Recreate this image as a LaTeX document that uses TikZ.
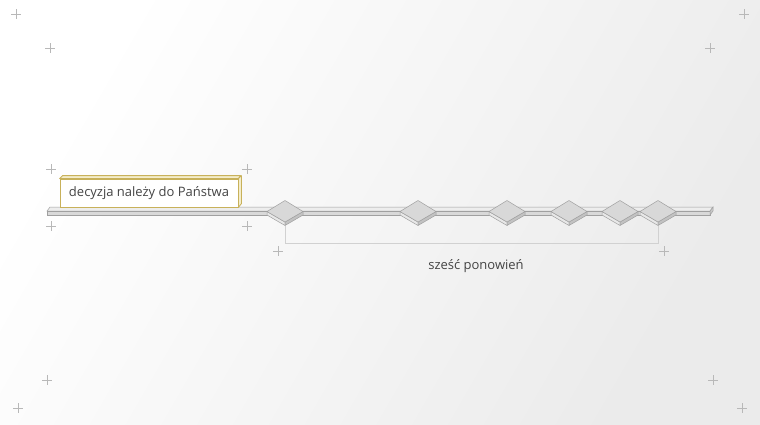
\documentclass[tikz,border=0pt]{standalone}
\usepackage{fontspec}
\setmainfont{Open Sans}
\usetikzlibrary{positioning}
\definecolor{edgegray}{HTML}{A0A0A0}
\definecolor{topgray}{HTML}{D8D8D8}
\definecolor{leftgray}{HTML}{E8E8E8}
\definecolor{rightgray}{HTML}{C2C2C2}
\definecolor{gold}{HTML}{C8B15A}
\definecolor{goldside}{HTML}{F4EDCB}
\definecolor{txt}{HTML}{444444}

\tikzset{
  crs/.style={draw=black!28, line width=0.5pt},
  pintop/.style={fill=topgray, draw=edgegray, line width=0.5pt, line join=round},
  pinleft/.style={fill=leftgray, draw=edgegray, line width=0.5pt, line join=round},
  pinright/.style={fill=rightgray, draw=edgegray, line width=0.5pt, line join=round},
  brk/.style={draw=black!18, line width=0.8pt},
  box/.style={draw=gold, fill=white, line width=0.8pt, minimum width=178pt, minimum height=28pt, inner sep=0pt, text=txt, font=\fontsize{13}{15}\selectfont},
  lbl/.style={text=txt, font=\fontsize{13}{15}\selectfont}
}

\newcommand{\crossmark}[2]{\draw[crs] (#1-5,#2)--(#1+5,#2) (#1,#2-5)--(#1,#2+5);}
\newcommand{\pin}[2]{%
  \coordinate (#1) at (#2,211.5);
  \filldraw[pinleft] (#1) ++(-18,0) -- ++(0,3.5) -- ++(18,10.5) -- ++(0,-3.5) -- cycle;
  \filldraw[pinright] (#1) ++(18,0) -- ++(0,3.5) -- ++(-18,10.5) -- ++(0,-3.5) -- cycle;
  \filldraw[pintop] (#1) ++(-18,0) -- ++(18,-11) -- ++(18,11) -- ++(-18,10.5) -- cycle;
}

\begin{document}
\begin{tikzpicture}[x=1pt,y=-1pt]
\useasboundingbox (0,0) rectangle (760,424);
\shade[left color=white, right color=black!8, shading angle=60] (0,0) rectangle (760,424);

% corner marks
\crossmark{16}{14}
\crossmark{744}{14}
\crossmark{50}{48}
\crossmark{710}{48}
\crossmark{47}{380}
\crossmark{713}{380}
\crossmark{18}{408}
\crossmark{742}{408}
\crossmark{51}{169}
\crossmark{247}{169}
\crossmark{51}{226}
\crossmark{247}{226}
\crossmark{278}{251}
\crossmark{664}{251}

% bar
\filldraw[fill=black!7, draw=edgegray, line width=0.5pt] (47,211) -- (50,207) -- (713,207) -- (710,211) -- cycle;
\filldraw[fill=black!15, draw=edgegray, line width=0.5pt] (47,211) -- (710,211) -- (710,215) -- (47,215) -- cycle;
\filldraw[fill=black!22, draw=edgegray, line width=0.5pt] (710,211) -- (713,207) -- (713,211) -- (710,215) -- cycle;

% label box
\node[box] (dec) at (149,193) {decyzja należy do Państwa};
\filldraw[fill=goldside, draw=gold, line width=0.8pt, line join=round] (dec.north west) -- ++(3,-3) -- ++(178,0) -- (dec.north east) -- cycle;
\filldraw[fill=goldside, draw=gold, line width=0.8pt, line join=round] (dec.north east) -- ++(3,-3) -- ++(0,28) -- (dec.south east) -- cycle;

% retries
\pin{p1}{285}
\pin{p2}{418}
\pin{p3}{507}
\pin{p4}{569}
\pin{p5}{620}
\pin{p6}{658}

\draw[brk] ([yshift=-14pt]p1) -- ([yshift=-31.5pt]p1) -| ([yshift=-14pt]p6);
\node[lbl] (sp) at (476,266) {sześć ponowień};
\end{tikzpicture}
\end{document}
